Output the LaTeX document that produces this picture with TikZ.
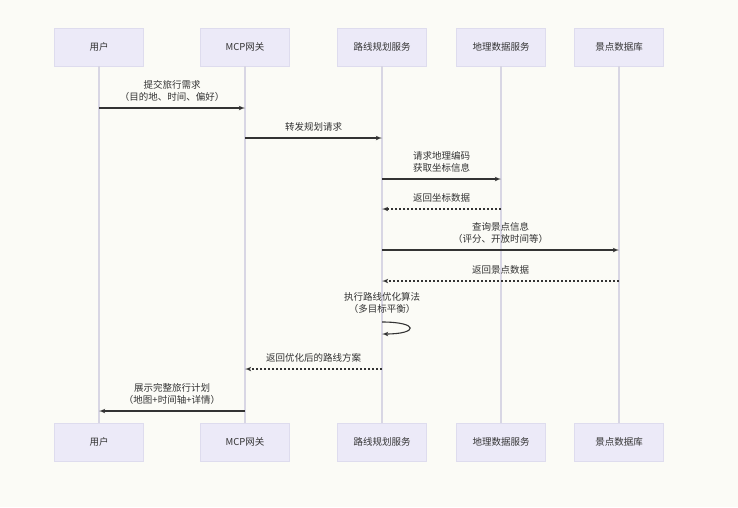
\documentclass[tikz,border=0pt]{standalone}
\usepackage{fontspec}
\setmainfont{Noto Sans CJK SC}
\usetikzlibrary{arrows}
\definecolor{paper}{HTML}{FBFBF6}
\definecolor{boxfill}{HTML}{ECEAF8}
\definecolor{boxline}{HTML}{DEDCEE}
\definecolor{lifeline}{HTML}{D8D6E4}
\definecolor{ink}{HTML}{333333}
\begin{document}
\begin{tikzpicture}[x=1pt,y=-1pt]
        \tikzset{actor/.style = {shape=rectangle,draw=boxline,fill=boxfill,minimum width=89pt,minimum height=38pt,text=ink,font=\fontsize{9.5}{11}\selectfont}};
        \tikzset{edge/.style = {->,> = latex',draw=ink,line width=1.1pt}};
        \tikzset{reply/.style = {edge,dash pattern=on 2pt off 2pt}};
        \tikzset{life/.style = {draw=lifeline,line width=1.1pt}};
        \tikzset{msg/.style = {align=center,text=ink,font=\fontsize{9.5}{12}\selectfont,inner sep=1pt}};
        \fill[paper] (0,0) rectangle (738,507);
        \node[actor] (a1) at (99,47) {用户};
        \node[actor] (a2) at (245,47) {MCP网关};
        \node[actor] (a3) at (382,47) {路线规划服务};
        \node[actor] (a4) at (501,47) {地理数据服务};
        \node[actor] (a5) at (619,47) {景点数据库};
        \node[actor] (b1) at (99,442) {用户};
        \node[actor] (b2) at (245,442) {MCP网关};
        \node[actor] (b3) at (382,442) {路线规划服务};
        \node[actor] (b4) at (501,442) {地理数据服务};
        \node[actor] (b5) at (619,442) {景点数据库};
        \draw[life] (a1) -- (b1);
        \draw[life] (a2) -- (b2);
        \draw[life] (a3) -- (b3);
        \draw[life] (a4) -- (b4);
        \draw[life] (a5) -- (b5);
        \draw[edge] (a1 |- 0,108) to node[msg,above=5pt]{提交旅行需求\\（目的地、时间、偏好）} (a2 |- 0,108);
        \draw[edge] (a2 |- 0,138) to node[msg,above=5pt]{转发规划请求} (a3 |- 0,138);
        \draw[edge] (a3 |- 0,179) to node[msg,above=5pt]{请求地理编码\\获取坐标信息} (a4 |- 0,179);
        \draw[reply] (a4 |- 0,209) to node[msg,above=5pt]{返回坐标数据} (a3 |- 0,209);
        \draw[edge] (a3 |- 0,250) to node[msg,above=5pt]{查询景点信息\\（评分、开放时间等）} (a5 |- 0,250);
        \draw[reply] (a5 |- 0,281) to node[msg,above=5pt]{返回景点数据} (a3 |- 0,281);
        \node[msg] (loop) at (382,303) {执行路线优化算法\\（多目标平衡）};
        \draw[edge] (a3 |- 0,322) to[out=0,in=0,distance=37pt] (a3 |- 0,334);
        \draw[reply] (a3 |- 0,369) to node[msg,above=5pt]{返回优化后的路线方案} (a2 |- 0,369);
        \draw[edge] (a2 |- 0,411) to node[msg,above=5pt]{展示完整旅行计划\\（地图+时间轴+详情）} (a1 |- 0,411);
    \end{tikzpicture}
\end{document}
